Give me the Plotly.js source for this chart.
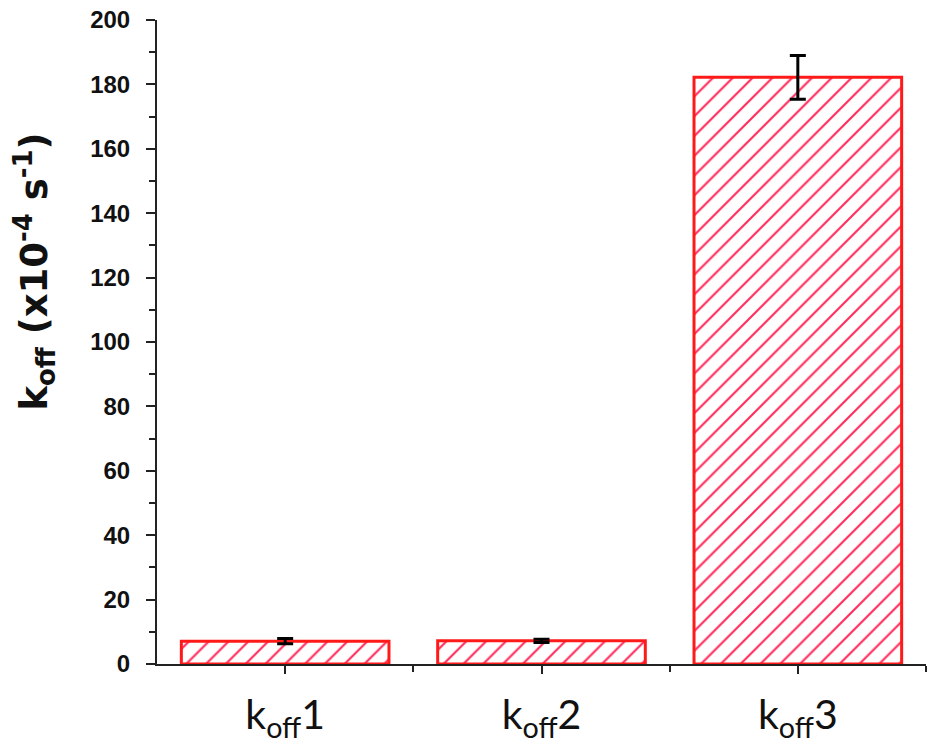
<!DOCTYPE html>
<html>
<head>
<meta charset="utf-8">
<script src="https://cdn.plot.ly/plotly-3.0.1.min.js"></script>
<style>html,body{margin:0;padding:0;background:#fff;}#chart{width:933px;height:751px;}</style>
</head>
<body>
<div id="chart"></div>
<script>
var categories = ["k<sub>off</sub>1", "k<sub>off</sub>2", "k<sub>off</sub>3"];
var positions = [0, 1, 2];
var values = [7.1, 7.2, 182.2];
var errors = [0.8, 0.5, 6.8];
var yTicks = [0, 20, 40, 60, 80, 100, 120, 140, 160, 180, 200];

var trace = {
  type: "bar",
  x: positions,
  y: values,
  width: 0.81,
  error_y: {type: "data", array: errors, visible: true, color: "#000", thickness: 3, width: 8},
  marker: {
    color: "#ffffff",
    line: {color: "#ff1a1a", width: 3},
    pattern: {shape: "/", fgcolor: "#ff2a5a", bgcolor: "#ffffff", size: 14, solidity: 0.15}
  },
  hoverinfo: "none"
};

var layout = {
  width: 933, height: 751,
  margin: {l: 157, r: 7, t: 20, b: 87},
  paper_bgcolor: "#fff", plot_bgcolor: "#fff",
  showlegend: false,
  xaxis: {
    type: "linear", range: [-0.5, 2.5],
    tickmode: "array", tickvals: positions, ticktext: categories,
    ticks: "outside", ticklen: 8, tickwidth: 2, tickcolor: "#222",
    minor: {tickmode: "array", tickvals: [0.5, 1.5, 2.5], ticks: "outside", ticklen: 6, tickwidth: 2, tickcolor: "#222"},
    showline: true, linecolor: "#222", linewidth: 2,
    showgrid: false, zeroline: false,
    ticklabelstandoff: 6,
    tickfont: {family: "Lato, 'Open Sans', sans-serif", size: 41, color: "#111"}
  },
  yaxis: {
    range: [0, 200],
    tickmode: "array", tickvals: yTicks,
    ticks: "outside", ticklen: 9, tickwidth: 2, tickcolor: "#222",
    minor: {dtick: 10, tick0: 0, ticks: "outside", ticklen: 6, tickwidth: 2, tickcolor: "#222"},
    showline: true, linecolor: "#222", linewidth: 2,
    showgrid: false, zeroline: false,
    ticklabelstandoff: 11,
    tickfont: {family: "'Liberation Sans', Arial, sans-serif", size: 24, color: "#111", weight: "bold"}
  },
  annotations: [{
    text: "k<sub>off</sub> (x10<sup>-4</sup> s<sup>-1</sup>)",
    xref: "paper", yref: "paper",
    x: -0.159, y: 0.609, xanchor: "center", yanchor: "middle",
    textangle: -90, showarrow: false,
    font: {family: "'DejaVu Sans', sans-serif", size: 37, color: "#111", weight: "bold"}
  }]
};

Plotly.newPlot("chart", [trace], layout, {staticPlot: true, displayModeBar: false});
</script>
</body>
</html>
